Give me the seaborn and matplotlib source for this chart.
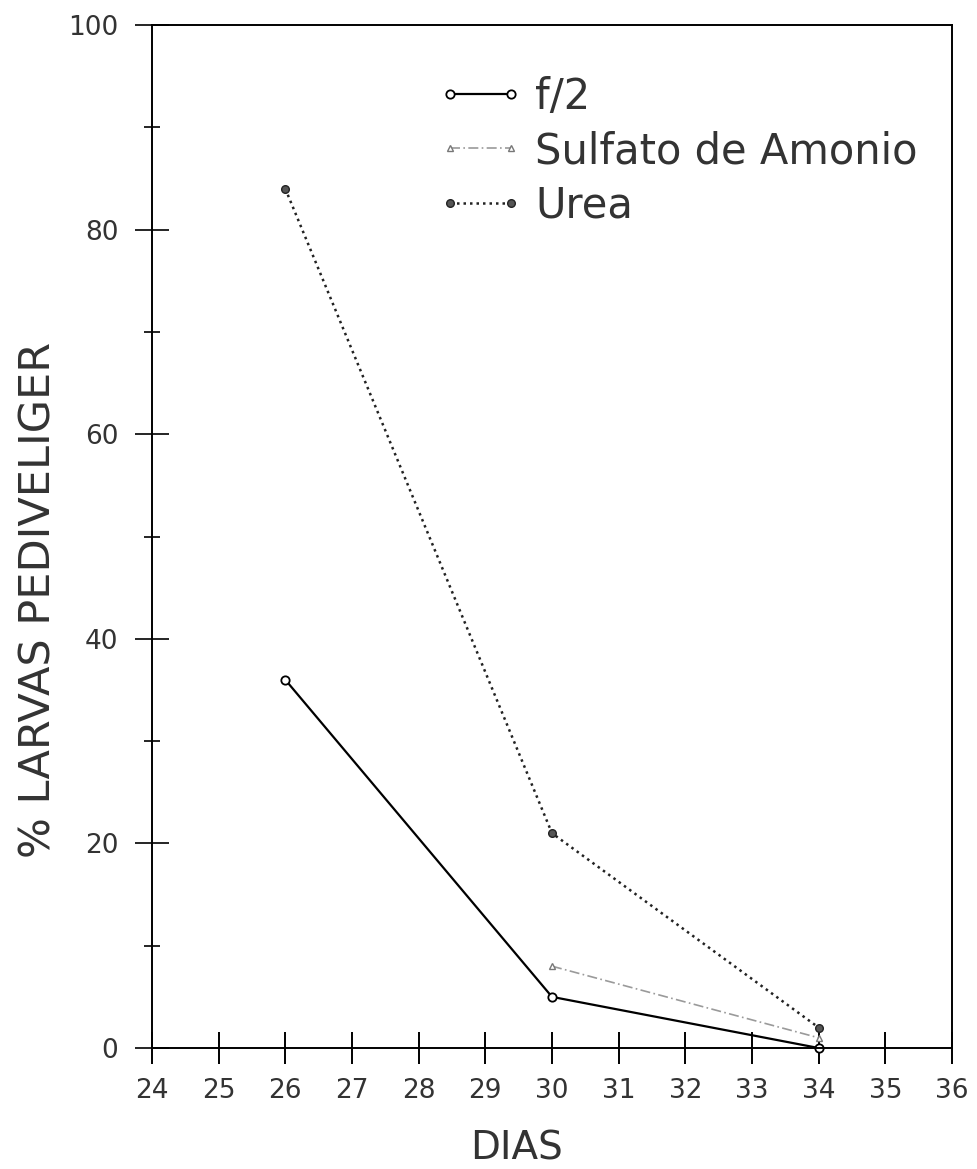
import matplotlib
matplotlib.use("Agg")
import matplotlib.pyplot as plt
import seaborn as sns
import pandas as pd
from matplotlib.ticker import MultipleLocator

# ---- data ----
dias_f2 = [26, 30, 34]
f2 = [36, 5, 0]
dias_sulfato = [30, 34]
sulfato = [8, 1]
dias_urea = [26, 30, 34]
urea = [84, 21, 2]
labels = ["f/2", "Sulfato de Amonio", "Urea"]
x_ticks = list(range(24, 37))
y_ticks = [0, 20, 40, 60, 80, 100]

sns.set_theme(style="white")
plt.rcParams['font.family'] = ['DejaVu Sans']

fig = plt.figure(figsize=(9.78, 11.69), dpi=100)
ax = fig.add_axes([0.1554, 0.1035, 0.818, 0.875])

df_f2 = pd.DataFrame({"x": dias_f2, "y": f2})
df_s = pd.DataFrame({"x": dias_sulfato, "y": sulfato})
df_u = pd.DataFrame({"x": dias_urea, "y": urea})

sns.lineplot(data=df_f2, x="x", y="y", ax=ax, color="black", linewidth=1.6,
             marker="o", markersize=6, markerfacecolor="white",
             markeredgecolor="black", markeredgewidth=1.3, label=labels[0],
             clip_on=False)
sns.lineplot(data=df_s, x="x", y="y", ax=ax, color="#9a9a9a", linewidth=1.2,
             linestyle=(0, (6, 2, 1, 2)), marker="^", markersize=5,
             markerfacecolor="white", markeredgecolor="#777777",
             markeredgewidth=1.0, label=labels[1], clip_on=False)
sns.lineplot(data=df_u, x="x", y="y", ax=ax, color="#222222", linewidth=1.8,
             linestyle=(0, (1, 1.6)), marker="o", markersize=5.5,
             markerfacecolor="#555555", markeredgecolor="#222222",
             markeredgewidth=1.0, label=labels[2], clip_on=False)

ax.set_xlim(24, 36)
ax.set_ylim(0, 100)
ax.set_xticks(x_ticks)
ax.set_xticklabels([str(t) for t in x_ticks])
ax.set_yticks(y_ticks)
ax.set_yticklabels([str(t) for t in y_ticks])
ax.yaxis.set_minor_locator(MultipleLocator(10))

for s in ax.spines.values():
    s.set_visible(True)
    s.set_color("black")
    s.set_linewidth(1.4)

ax.tick_params(axis="x", which="major", direction="inout", length=23, width=1.4,
               colors="black", labelcolor="#333333", labelsize=19, pad=10,
               bottom=True)
ax.tick_params(axis="y", which="major", direction="inout", length=24.5, width=1.2,
               colors="black", labelcolor="#333333", labelsize=19, pad=12,
               left=True)
ax.tick_params(axis="y", which="minor", direction="inout", length=12, width=1.2,
               colors="black", left=True)

ax.set_xlabel("DIAS", fontsize=28, color="#333333")
ax.xaxis.set_label_coords(0.456, -0.08)
ax.set_ylabel("% LARVAS PEDIVELIGER", fontsize=31, color="#333333")
ax.yaxis.set_label_coords(-0.115, 0.438)

leg = ax.legend(loc="upper left", bbox_to_anchor=(0.336, 0.967), frameon=False,
                numpoints=2, fontsize=30, handlelength=2.06, handletextpad=0.29,
                labelspacing=0.3, borderaxespad=0)
for t in leg.get_texts():
    t.set_color("#333333")

fig.savefig("out.png", dpi=100, facecolor="white")
